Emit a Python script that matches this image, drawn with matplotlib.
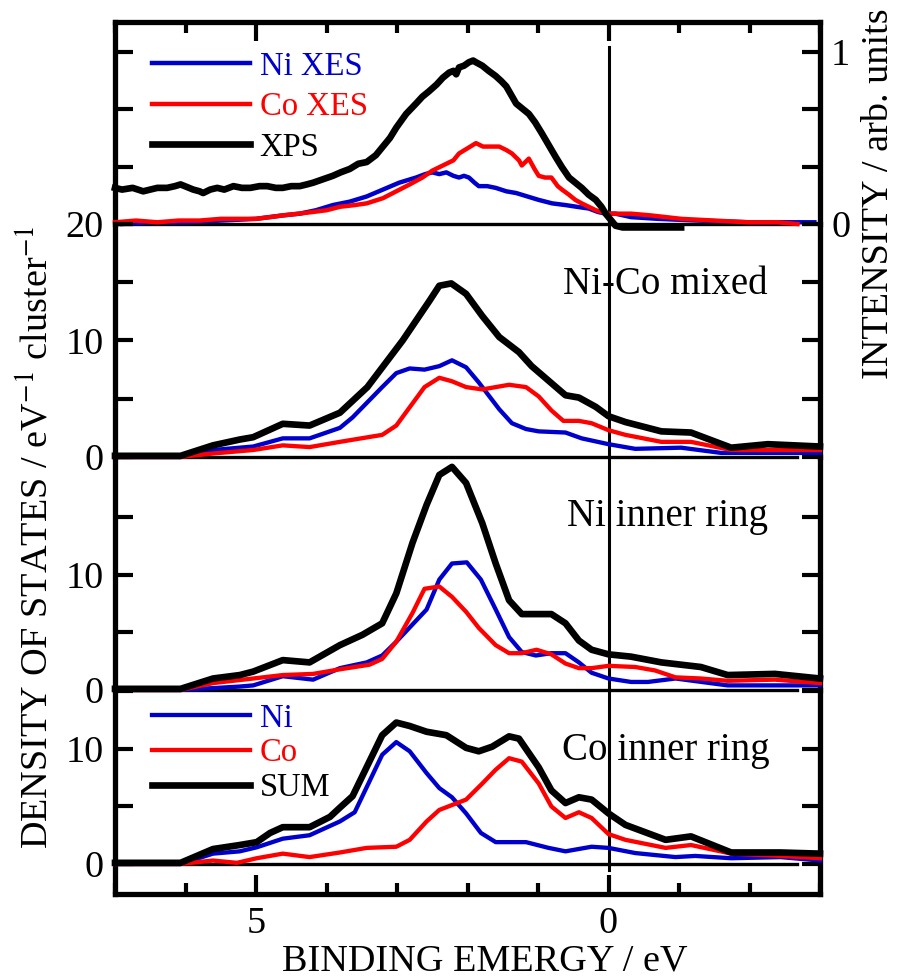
import matplotlib
matplotlib.use("Agg")
import matplotlib.pyplot as plt
from matplotlib.ticker import MultipleLocator, FixedLocator

plt.rcParams["font.family"] = ["Liberation Serif", "DejaVu Serif"]
plt.rcParams["mathtext.fontset"] = "stix"

BLUE = "#0000cc"
RED = "#ff0000"
BLACK = "#000000"

# ---- top panel: measured spectra (binding energy eV, intensity arb. units)
xps_pts = [(7.0, 0.21), (6.9, 0.20), (6.75, 0.21), (6.6, 0.19), (6.5, 0.20), (6.4, 0.21),
           (6.26, 0.21), (6.15, 0.22), (6.07, 0.23), (5.95, 0.21), (5.89, 0.20), (5.8, 0.19),
           (5.75, 0.18), (5.65, 0.20), (5.55, 0.21), (5.45, 0.20), (5.32, 0.22), (5.2, 0.21),
           (5.08, 0.21), (4.95, 0.22), (4.84, 0.22), (4.72, 0.21), (4.62, 0.21), (4.5, 0.22),
           (4.38, 0.22), (4.28, 0.23), (4.19, 0.24), (4.05, 0.26), (3.91, 0.28), (3.8, 0.30),
           (3.67, 0.32), (3.55, 0.35), (3.43, 0.36), (3.3, 0.40), (3.2, 0.45), (3.1, 0.50),
           (3.01, 0.56), (2.94, 0.60), (2.87, 0.64), (2.8, 0.67), (2.73, 0.70), (2.64, 0.74),
           (2.55, 0.77), (2.44, 0.81), (2.35, 0.85), (2.26, 0.88), (2.20, 0.89), (2.16, 0.87),
           (2.12, 0.91), (2.05, 0.92), (1.98, 0.94), (1.92, 0.95), (1.88, 0.94), (1.79, 0.92),
           (1.70, 0.89), (1.60, 0.86), (1.52, 0.83), (1.45, 0.80), (1.38, 0.75), (1.31, 0.70),
           (1.22, 0.67), (1.13, 0.64), (1.04, 0.59), (0.95, 0.53), (0.85, 0.46), (0.75, 0.39),
           (0.66, 0.33), (0.56, 0.27), (0.47, 0.24), (0.38, 0.21), (0.28, 0.17), (0.18, 0.14),
           (0.10, 0.10), (0.04, 0.06), (-0.04, 0.02), (-0.10, -0.01), (-0.20, -0.02),
           (-0.28, -0.02), (-0.45, -0.02), (-0.60, -0.02), (-0.80, -0.02), (-1.03, -0.02)]

co_xes_pts = [(7.0, 0.01), (6.7, 0.02), (6.4, 0.01), (6.1, 0.02), (5.8, 0.02), (5.5, 0.03),
              (5.2, 0.03), (5.0, 0.03), (4.8, 0.04), (4.62, 0.05), (4.4, 0.06), (4.19, 0.07),
              (4.0, 0.08), (3.81, 0.10), (3.6, 0.11), (3.43, 0.12), (3.2, 0.15), (3.01, 0.19),
              (2.82, 0.23), (2.64, 0.27), (2.50, 0.31), (2.40, 0.33), (2.30, 0.35), (2.20, 0.37),
              (2.12, 0.41), (2.0, 0.44), (1.88, 0.47), (1.78, 0.45), (1.69, 0.45), (1.55, 0.45),
              (1.45, 0.43), (1.37, 0.41), (1.27, 0.37), (1.23, 0.34), (1.13, 0.38), (1.05, 0.32),
              (0.99, 0.28), (0.90, 0.27), (0.81, 0.27), (0.72, 0.22), (0.66, 0.20), (0.56, 0.17),
              (0.47, 0.14), (0.38, 0.12), (0.28, 0.10), (0.18, 0.08), (0.10, 0.07), (0.0, 0.06),
              (-0.10, 0.06), (-0.32, 0.06), (-0.6, 0.05), (-1.03, 0.03), (-1.5, 0.02),
              (-1.98, 0.01), (-2.4, 0.01), (-2.68, 0.0)]

ni_xes_pts = [(6.9, 0.0), (6.5, 0.01), (6.0, 0.01), (5.5, 0.02), (5.0, 0.03), (4.62, 0.05),
              (4.38, 0.06), (4.15, 0.08), (3.91, 0.11), (3.67, 0.13), (3.43, 0.16), (3.2, 0.20),
              (2.97, 0.24), (2.73, 0.27), (2.60, 0.29), (2.50, 0.30), (2.40, 0.29), (2.30, 0.30),
              (2.20, 0.28), (2.12, 0.27), (2.05, 0.28), (1.98, 0.27), (1.90, 0.24), (1.84, 0.22),
              (1.72, 0.22), (1.60, 0.21), (1.45, 0.19), (1.31, 0.18), (1.15, 0.16), (0.99, 0.14),
              (0.80, 0.12), (0.61, 0.11), (0.45, 0.10), (0.28, 0.09), (0.15, 0.07), (0.04, 0.06),
              (-0.10, 0.06), (-0.32, 0.04), (-0.7, 0.03), (-1.27, 0.02), (-2.0, 0.01), (-2.92, 0.01)]

# ---- calculated DOS (states / eV / cluster)
mix_sum_pts = [(7.0, 0.1), (6.07, 0.1), (5.61, 1.0), (5.23, 1.5), (5.04, 1.7), (4.62, 2.85),
               (4.24, 2.7), (3.81, 3.8), (3.42, 6.0), (2.92, 10.0), (2.54, 13.4), (2.40, 14.7),
               (2.23, 14.9), (2.02, 14.0), (1.79, 12.1), (1.55, 10.3), (1.27, 9.0), (1.09, 7.8),
               (0.61, 5.3), (0.42, 5.1), (0.18, 4.3), (0.0, 3.5), (-0.24, 3.0), (-0.75, 2.2),
               (-1.17, 2.1), (-1.74, 0.8), (-2.26, 1.1), (-3.0, 0.9)]
mix_ni_pts = [(7.0, 0.0), (6.07, 0.0), (5.61, 0.6), (5.04, 0.9), (4.62, 1.6), (4.24, 1.6),
              (3.81, 2.5), (3.63, 3.4), (3.21, 6.0), (3.01, 7.2), (2.82, 7.6), (2.61, 7.5),
              (2.40, 7.8), (2.22, 8.3), (2.02, 7.7), (1.84, 6.4), (1.55, 4.1), (1.37, 2.9),
              (1.17, 2.4), (0.99, 2.2), (0.61, 2.1), (0.38, 1.6), (0.0, 1.1), (-0.38, 0.7),
              (-1.03, 0.8), (-1.60, 0.35), (-3.0, 0.35)]
mix_co_pts = [(7.0, 0.0), (6.07, 0.0), (5.61, 0.3), (5.04, 0.6), (4.62, 1.0), (4.24, 0.85),
              (3.81, 1.3), (3.21, 1.9), (3.01, 2.7), (2.61, 6.0), (2.40, 6.8), (2.22, 6.5),
              (2.02, 6.0), (1.79, 5.8), (1.60, 6.0), (1.41, 6.2), (1.17, 6.0), (0.99, 5.2),
              (0.81, 4.0), (0.64, 3.1), (0.42, 3.1), (0.24, 2.9), (0.0, 2.3), (-0.24, 1.9),
              (-0.75, 1.3), (-1.17, 1.3), (-1.74, 0.6), (-3.0, 0.6)]

ni_sum_pts = [(7.0, 0.1), (6.07, 0.1), (5.61, 1.0), (5.23, 1.3), (5.04, 1.6), (4.62, 2.6),
              (4.24, 2.4), (3.81, 3.9), (3.49, 4.8), (3.21, 5.8), (3.01, 8.4), (2.78, 12.8),
              (2.58, 16.1), (2.40, 18.7), (2.22, 19.4), (2.02, 18.0), (1.79, 14.5), (1.60, 11.0),
              (1.41, 7.8), (1.23, 6.6), (0.81, 6.6), (0.61, 5.8), (0.42, 4.3), (0.24, 3.5),
              (0.0, 3.1), (-0.32, 2.9), (-0.75, 2.4), (-1.31, 2.0), (-1.69, 1.3), (-2.36, 1.4),
              (-3.0, 1.0)]
ni_ni_pts = [(7.0, 0.0), (6.07, 0.0), (5.23, 0.3), (5.04, 0.4), (4.62, 1.2), (4.19, 0.9),
             (3.81, 1.9), (3.43, 2.4), (3.21, 3.0), (3.01, 4.2), (2.58, 7.0), (2.40, 9.6),
             (2.22, 11.0), (2.01, 11.1), (1.81, 9.6), (1.60, 7.0), (1.41, 4.6), (1.23, 3.3),
             (1.03, 3.0), (0.81, 3.2), (0.61, 3.2), (0.42, 2.4), (0.24, 1.5), (0.0, 1.0),
             (-0.32, 0.7), (-0.56, 0.7), (-0.95, 1.0), (-1.69, 0.4), (-3.0, 0.4)]
ni_co_pts = [(7.0, 0.0), (6.07, 0.0), (5.61, 0.6), (5.04, 1.0), (4.62, 1.3), (4.19, 1.4),
             (3.81, 1.8), (3.39, 2.2), (3.21, 2.7), (3.01, 4.2), (2.78, 6.7), (2.61, 8.8),
             (2.40, 9.0), (2.22, 8.1), (2.02, 6.8), (1.84, 5.4), (1.60, 3.9), (1.41, 3.2),
             (1.23, 3.2), (1.02, 3.5), (0.81, 3.1), (0.61, 2.3), (0.42, 1.9), (0.24, 1.9),
             (0.0, 2.1), (-0.38, 2.0), (-0.66, 1.7), (-0.95, 1.1), (-1.31, 1.0), (-1.69, 0.8),
             (-2.36, 0.9), (-3.0, 0.6)]

co_sum_pts = [(7.0, 0.1), (6.07, 0.1), (5.61, 1.3), (5.23, 1.65), (4.99, 1.9), (4.80, 2.7),
              (4.62, 3.2), (4.24, 3.2), (3.95, 4.1), (3.81, 4.9), (3.63, 5.9), (3.21, 11.2),
              (3.01, 12.3), (2.82, 12.0), (2.58, 11.5), (2.30, 11.2), (2.02, 10.1), (1.84, 9.8),
              (1.65, 10.2), (1.41, 11.1), (1.27, 10.9), (0.99, 8.4), (0.81, 6.4), (0.61, 5.3),
              (0.42, 5.8), (0.24, 5.6), (0.0, 4.4), (-0.24, 3.4), (-0.81, 2.1), (-1.17, 2.4),
              (-1.74, 1.0), (-2.44, 1.0), (-3.0, 0.9)]
co_ni_pts = [(7.0, 0.0), (6.07, 0.0), (5.61, 0.9), (5.23, 1.1), (4.99, 1.45), (4.62, 2.2),
             (4.24, 2.5), (3.81, 3.7), (3.60, 4.5), (3.21, 9.5), (3.01, 10.6), (2.82, 9.8),
             (2.58, 7.9), (2.40, 6.6), (2.22, 5.8), (2.02, 4.4), (1.81, 2.7), (1.60, 1.9),
             (1.17, 1.9), (0.85, 1.4), (0.61, 1.1), (0.24, 1.5), (0.0, 1.4), (-0.38, 0.95),
             (-0.95, 0.6), (-1.23, 0.7), (-1.74, 0.5), (-2.44, 0.6), (-3.0, 0.3)]
co_co_pts = [(7.0, 0.0), (6.07, 0.0), (5.61, 0.3), (5.27, 0.1), (4.99, 0.5), (4.62, 0.9),
             (4.24, 0.6), (3.81, 1.0), (3.43, 1.4), (3.01, 1.5), (2.82, 2.1), (2.58, 3.7),
             (2.40, 4.7), (2.02, 5.6), (1.79, 7.0), (1.60, 8.2), (1.41, 9.2), (1.23, 8.9),
             (0.99, 7.0), (0.81, 5.0), (0.61, 4.0), (0.42, 4.5), (0.24, 4.0), (0.0, 2.6),
             (-0.24, 2.1), (-0.81, 1.4), (-1.17, 1.65), (-1.74, 0.9), (-2.44, 0.7), (-3.0, 0.5)]

panel_names = ["Ni-Co mixed", "Ni inner ring", "Co inner ring"]
xes_labels = ["Ni XES", "Co XES", "XPS"]
dos_labels = ["Ni", "Co", "SUM"]
x_ticks = [5, 0]
x_ticklabels = ["5", "0"]


def xy(pts):
    e, v = zip(*pts)
    return list(e), list(v)


W, H = 898, 980
fig = plt.figure(figsize=(W / 100, H / 100), dpi=100)


def fx(px):
    return px / W


def fy(py):
    return 1 - py / H


left_px, right_px = 115, 820
bounds = [22, 224, 457, 690, 894]
ylims = [(0, 1.174), (0, 20.0), (0, 20.26), (-2.61, 15.13)]
axes = []
for i in range(4):
    top, bot = bounds[i], bounds[i + 1]
    ax = fig.add_axes([fx(left_px), fy(bot), (right_px - left_px) / W, (bot - top) / H])
    ax.set_xlim(7, -3)
    ax.set_ylim(*ylims[i])
    for s in ax.spines.values():
        s.set_linewidth(3.8)
    ax.spines["top"].set_visible(i == 0)
    ax.spines["bottom"].set_visible(i == 3)
    ax.patch.set_alpha(0)
    axes.append(ax)

ax1, ax2, ax3, ax4 = axes

# x ticks: inward, major every 5 eV, minor every 1 eV
for i, ax in enumerate(axes):
    ax.xaxis.set_major_locator(FixedLocator(x_ticks))
    ax.xaxis.set_minor_locator(MultipleLocator(1))
    ax.tick_params(axis="x", which="major", direction="in", length=14, width=3)
    ax.tick_params(axis="x", which="minor", direction="in", length=8, width=3)
    ax.tick_params(axis="x", which="both", top=(i == 0), bottom=(i == 3),
                   labeltop=False, labelbottom=(i == 3), labelsize=27.5, pad=9)
ax4.set_xticklabels(x_ticklabels)

# y ticks
for ax in axes:
    ax.tick_params(axis="y", which="major", direction="in", length=13, width=3,
                   left=True, right=True, labelsize=27.5, pad=8)

ax1.set_yticks([0, 1 / 3, 2 / 3, 1])
ax1.set_yticklabels(["0", "", "", "1"])
ax1.tick_params(axis="y", labelleft=False, labelright=True)
ax2.set_yticks([0, 5, 10, 15, 20])
ax2.set_yticklabels(["0", "", "10", "", "20"])
ax3.set_yticks([0, 5, 10, 15])
ax3.set_yticklabels(["0", "", "10", ""])
ax4.set_yticks([0, 5, 10, 15])
ax4.set_yticklabels(["0", "", "10", ""])
for ax in (ax2, ax3, ax4):
    ax.tick_params(axis="y", labelleft=True, labelright=False)

# baselines and Fermi level
for ax in axes:
    ax.axhline(0, xmin=0, xmax=0.967, color=BLACK, lw=2.4, zorder=1, clip_on=False)
ax1.axvline(0, ymin=0, ymax=(224 - 47) / 202, color=BLACK, lw=2.2, zorder=1)
ax2.axvline(0, color=BLACK, lw=2.2, zorder=1)
ax3.axvline(0, color=BLACK, lw=2.2, zorder=1)
ax4.axvline(0, ymin=(894 - 870) / 204, ymax=1, color=BLACK, lw=2.2, zorder=1, clip_on=False)

# top panel spectra
e, v = xy(ni_xes_pts)
l_ni, = ax1.plot(e, v, color=BLUE, lw=3.2, zorder=3, clip_on=False)
e, v = xy(co_xes_pts)
l_co, = ax1.plot(e, v, color=RED, lw=3.2, zorder=4, clip_on=False)
e, v = xy(xps_pts)
l_xps, = ax1.plot(e, v, color=BLACK, lw=4.8, zorder=5, clip_on=False)
ax1.legend([l_ni, l_co, l_xps], xes_labels, loc="center left",
           bbox_to_anchor=((152 - left_px) / (right_px - left_px), (224 - 107) / 202),
           frameon=False, borderpad=0, borderaxespad=0, handlelength=3.0,
           handletextpad=0.3, labelspacing=0.31, fontsize=23.5, labelcolor="linecolor")

# DOS panels
dos_sets = [(ax2, mix_ni_pts, mix_co_pts, mix_sum_pts),
            (ax3, ni_ni_pts, ni_co_pts, ni_sum_pts),
            (ax4, co_ni_pts, co_co_pts, co_sum_pts)]
handles = None
for ax, ni_pts, co_pts, sum_pts in dos_sets:
    e, v = xy(ni_pts)
    h1, = ax.plot(e, v, color=BLUE, lw=3.1, zorder=3, clip_on=False)
    e, v = xy(co_pts)
    h2, = ax.plot(e, v, color=RED, lw=3.1, zorder=4, clip_on=False)
    e, v = xy(sum_pts)
    h3, = ax.plot(e, v, color=BLACK, lw=4.8, zorder=5, clip_on=False)
    handles = [h1, h2, h3]

ax4.legend(handles, dos_labels, loc="center left",
           bbox_to_anchor=((152 - left_px) / (right_px - left_px), (894 - 753) / 204),
           frameon=False, borderpad=0, borderaxespad=0, handlelength=3.0,
           handletextpad=0.3, labelspacing=0.13, fontsize=23.5, labelcolor="linecolor")

# panel captions
for name, (px, py) in zip(panel_names, [(563, 294), (567, 526), (562, 760)]):
    fig.text(fx(px), fy(py), name, fontsize=28, ha="left", va="baseline")

# axis titles
fig.text(fx(485), fy(970), "BINDING EMERGY / eV", fontsize=27.5, ha="center", va="baseline")
fig.text(fx(48), fy(537), r"DENSITY OF STATES / eV$^{-1}$ cluster$^{-1}$",
         fontsize=27.5, rotation=90, rotation_mode="anchor", ha="center", va="baseline")
fig.text(fx(888), fy(194), "INTENSITY / arb. units", fontsize=27.5, rotation=90,
         rotation_mode="anchor", ha="center", va="baseline")

fig.savefig("out.png", dpi=100)
